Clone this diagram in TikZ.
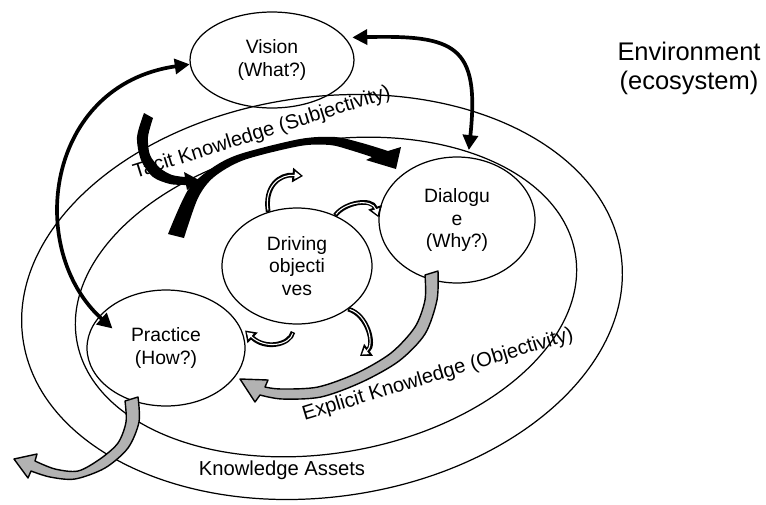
\documentclass[tikz,border=0pt]{standalone}
\usepackage{fontspec}
\setmainfont{Liberation Sans}
\usetikzlibrary{shapes.geometric,arrows.meta,calc}

\begin{document}
\begin{tikzpicture}[x=0.02cm,y=-0.02cm,
  idea/.style={ellipse,draw,line width=0.7pt,inner sep=0pt,align=center,font=\fontsize{11}{13}\selectfont},
  ring/.style={draw,line width=0.7pt},
  tag/.style={inner sep=0pt,font=\fontsize{11.5}{14}\selectfont},
  thickarr/.style={line width=2.1pt,{Triangle[length=8.5pt,width=8.5pt]}-{Triangle[length=8.5pt,width=8.5pt]}},
  smallarr/.style={white,line width=0.6pt,-{Triangle[length=3.4pt,width=4.2pt]},shorten >=#1+1.4pt,shorten <=0.8pt,
    preaction={draw=black,line width=2.7pt,-{Triangle[length=6pt,width=8pt]},shorten >=#1,shorten <=0pt}},
  smallarr/.default=0pt,
  blockarr/.style={fill=gray!60,draw=black,line width=0.8pt,line join=round},
  wedge/.style={fill=black}]
\useasboundingbox (0,0) rectangle (766,504);

\draw[ring,rotate around={8:(322,297)}] (322,297) ellipse [x radius=302,y radius=200];
\draw[ring,rotate around={10:(326,297)}] (326,297) ellipse [x radius=253,y radius=156];

\node[idea,minimum width=3.28cm,minimum height=1.92cm] (vision) at (272,60) {Vision\\(What?)};
\node[idea,minimum width=3.12cm,minimum height=2.52cm] (dialogue) at (457,220) {Dialogu\\e\\(Why?)};
\node[idea,minimum width=3cm,minimum height=2.32cm] (driving) at (297,266) {Driving\\objecti\\ves};
\node[idea,minimum width=3.16cm,minimum height=2.32cm] (practice) at (166,348) {Practice\\(How?)};

\node[font=\fontsize{14.5}{16.5}\selectfont,align=center] (env) at (689,68) {Environment\\(ecosystem)};
\node[tag,rotate=17.5] (tacit) at (262,133) {Tacit Knowledge (Subjectivity)};
\node[tag,rotate=16.8] (explicit) at (438,375) {Explicit Knowledge (Objectivity)};
\node[tag] (assets) at (282,470) {Knowledge Assets};

\draw[thickarr] (vision.183) .. controls (45,85) and (25,250) .. ($(practice.center)!0.75!(practice.160)$);
\draw[thickarr,shorten <=4pt,shorten >=4pt] (vision.17) .. controls (455,35) and (480,45) .. (dialogue.80);

\fill[wedge] plot[smooth] coordinates {(168,234) (188,190) (212,168) (240,154) (300,139) (335,137) (362,143) (388,151)}
  -- (401,147) -- (396,169) -- (366,160)
  -- plot[smooth] coordinates {(372,157) (350,150) (330,145) (300,146) (244,160) (214,177) (198,198) (184,238)} -- cycle;
\fill[wedge] plot[smooth] coordinates {(144,113) (137,137) (141,160) (153,177) (170,184) (186,185)}
  -- (187,190) -- (199,180) -- (184,172)
  -- plot[smooth] coordinates {(185,177) (172,175) (160,168) (150,155) (148,137) (153,118)} -- cycle;

\coordinate (drvtop) at (303,176);
\coordinate (drvdown) at (360,356);
\coordinate (drvtail) at (293,332);
\draw[smallarr] (driving.118) .. controls (264,186) and (280,174) .. (drvtop);
\draw[smallarr] (driving.53) .. controls (345,202) and (372,198) .. (dialogue.178);
\draw[smallarr] (driving.320) .. controls (368,315) and (375,345) .. (drvdown);
\draw[smallarr=5pt] (drvtail) .. controls (290,345) and (265,350) .. (practice.18);

\filldraw[blockarr] plot[smooth] coordinates {(438,271) (437,300) (425,334) (399,361) (362,382) (321,397) (282,399) (260,395)}
  -- (255,402) -- (240,379) -- (268,380)
  -- plot[smooth] coordinates {(265,387) (281,389) (318,387) (357,373) (391,353) (415,327) (425,300) (425,275)} -- cycle;
\filldraw[blockarr] plot[smooth] coordinates {(138,397) (139,422) (128,448) (105,468) (75,479) (50,477) (31,471)}
  -- (28,478) -- (14,459) -- (37,454)
  -- plot[smooth] coordinates {(35,461) (55,469) (78,471) (100,459) (118,443) (126,422) (125,401)} -- cycle;
\end{tikzpicture}
\end{document}
